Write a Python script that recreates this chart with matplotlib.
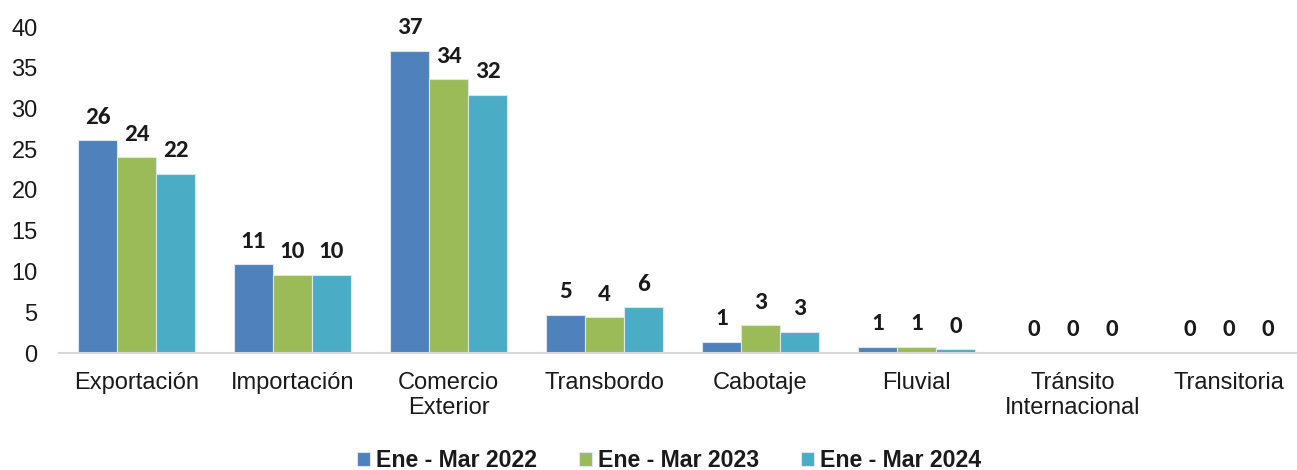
import matplotlib
matplotlib.use("Agg")
import matplotlib.pyplot as plt
import numpy as np

categories = ["Exportación", "Importación", "Comercio\nExterior", "Transbordo",
              "Cabotaje", "Fluvial", "Tránsito\nInternacional", "Transitoria"]
series_names = ["Ene - Mar 2022", "Ene - Mar 2023", "Ene - Mar 2024"]
v2022 = [26.1, 10.9, 37.1, 4.7, 1.35, 0.75, 0.0, 0.0]
v2023 = [24.0, 9.6, 33.6, 4.4, 3.4, 0.75, 0.0, 0.0]
v2024 = [22.0, 9.6, 31.7, 5.6, 2.6, 0.45, 0.0, 0.0]
colors = ["#4F81BD", "#9BBB59", "#4BACC6"]
yticks = [0, 5, 10, 15, 20, 25, 30, 35, 40]

LBL = ["Carlito", "Open Sans", "DejaVu Sans"]
TCK = ["Liberation Sans", "DejaVu Sans"]

fig = plt.figure(figsize=(12.97, 4.70), dpi=100)
ax = fig.add_axes([58.5 / 1297, 117 / 470, 1248 / 1297, 326 / 470])

x = np.arange(len(categories))
w = 0.25
handles = []
for i, (vals, col, name) in enumerate(zip([v2022, v2023, v2024], colors, series_names)):
    pos = x + (i - 1) * w
    b = ax.bar(pos, vals, width=w, color=col, edgecolor="#DCE6F0", linewidth=0.8, label=name)
    handles.append(b)
    for px, v in zip(pos, vals):
        ax.annotate(f"{v:.0f}", (px, v), xytext=(0, 9), textcoords="offset points",
                    ha="center", va="bottom", fontsize=18, fontweight="bold",
                    family=LBL, color="#1a1a1a")

ax.set_xlim(-0.5, 7.5)
ax.set_ylim(0, 40)
ax.set_yticks(yticks)
ax.set_yticklabels([str(t) for t in yticks], fontsize=17, family=TCK, color="#1a1a1a")
ax.set_xticks(x)
ax.set_xticklabels(categories, fontsize=17, family=TCK, color="#1a1a1a",
                   linespacing=1.2)
ax.tick_params(axis="both", length=0)
ax.tick_params(axis="y", pad=15)
ax.tick_params(axis="x", pad=13.5)
for s in ["top", "right", "left"]:
    ax.spines[s].set_visible(False)
ax.spines["bottom"].set_color("#D9D9D9")
ax.spines["bottom"].set_linewidth(1.5)

leg = fig.legend(handles=handles, labels=series_names, loc="center", bbox_to_anchor=(0.516, 0.02),
                 ncol=3, frameon=False, handlelength=0.57, handleheight=0.57, handletextpad=0.26,
                 columnspacing=1.8,
                 prop={"family": TCK, "weight": "bold", "size": 16.7})
for t in leg.get_texts():
    t.set_color("#1a1a1a")

fig.savefig("out.png", dpi=100)
